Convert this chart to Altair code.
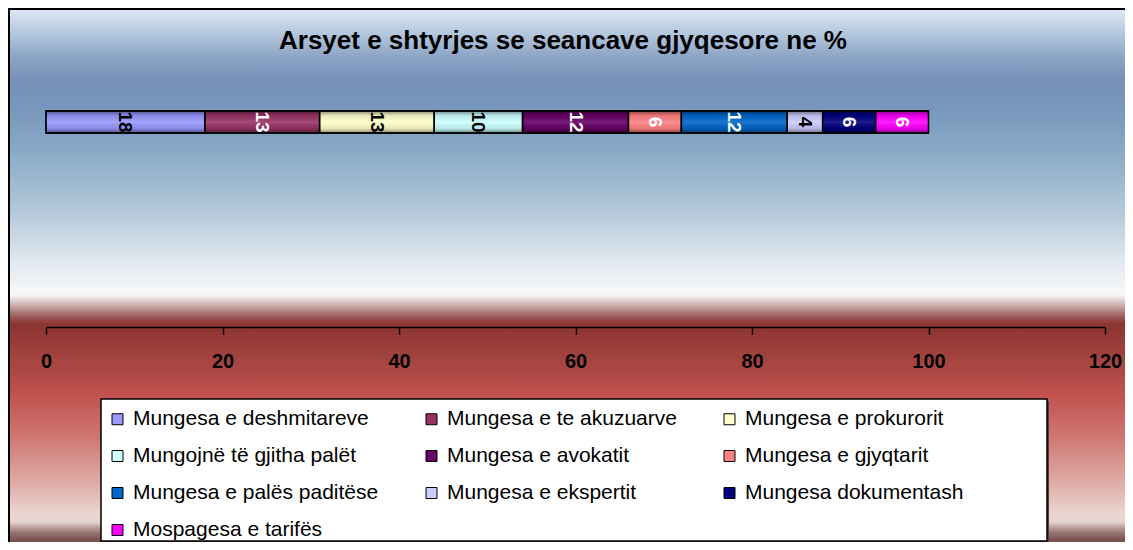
import altair as alt
import pandas as pd

# ---------------- data ----------------
TITLE = "Arsyet e shtyrjes se seancave gjyqesore ne %"
CATEGORIES = [
    "Mungesa e deshmitareve",
    "Mungesa e te akuzuarve",
    "Mungesa e prokurorit",
    "Mungojnë të gjitha palët",
    "Mungesa e avokatit",
    "Mungesa e gjyqtarit",
    "Mungesa e palës paditëse",
    "Mungesa e ekspertit",
    "Mungesa dokumentash",
    "Mospagesa e tarifës",
]
VALUES = [18, 13, 13, 10, 12, 6, 12, 4, 6, 6]
X_TICKS = [0, 20, 40, 60, 80, 100, 120]

# ---------------- styles ----------------
COLORS = ["#9999FF", "#993366", "#FFFFCC", "#CCFFFF", "#660066",
          "#FF8080", "#0066CC", "#CCCCFF", "#000080", "#FF00FF"]
LABEL_COLORS = ["black", "white", "black", "black", "white",
                "white", "white", "black", "white", "white"]
FONT = "Liberation Sans, Arial, sans-serif"

# layout (pixels)
PL, PT = 38, 92          # plot origin inside the svg
W, H = 1059, 227         # plot area: x axis 0..120, axis line at bottom
TOTAL_W, TOTAL_H = 1117, 534
PR = TOTAL_W - PL - W
PB = TOTAL_H - PT - H

df = pd.DataFrame({
    "category": CATEGORIES,
    "value": VALUES,
    "order": list(range(len(CATEGORIES))),
    "labelColor": LABEL_COLORS,
})

def stop(page_y, color):
    return alt.GradientStop(offset=max(0.0, min(1.0, (page_y - 9) / 535)), color=color)

bg_grad = alt.Gradient(
    gradient="linear", x1=0, y1=0, x2=0, y2=1,
    stops=[
        stop(9, "#dce8f4"), stop(25, "#c2d3e5"), stop(55, "#8fa8c8"),
        stop(80, "#7690b8"), stop(110, "#7898bc"), stop(150, "#88a9c6"),
        stop(210, "#b2c7d9"), stop(260, "#dfe7ef"), stop(292, "#f6f7f9"),
        stop(296, "#f4f1f1"), stop(300, "#e2d4d3"), stop(306, "#c8a9a8"),
        stop(312, "#ae7d7c"), stop(318, "#975250"), stop(324, "#8b3432"),
        stop(360, "#a54440"), stop(395, "#c1524f"), stop(440, "#cf7a75"),
        stop(485, "#dfaea9"), stop(514, "#ecd6d1"), stop(522, "#e4d2ce"),
        stop(527, "#bfa4a1"), stop(533, "#957270"), stop(540, "#7a5250"),
    ],
)

one = pd.DataFrame({"k": [0]})

background = alt.Chart(one).mark_rect(
    color=bg_grad, stroke="black", strokeWidth=2
).encode(
    x=alt.value(-PL + 1), x2=alt.value(W + PR + 2),
    y=alt.value(-PT + 1), y2=alt.value(H + PB + 2),
)

legend_shadow = alt.Chart(one).mark_rect(color="#5a3a3a").encode(
    x=alt.value(57), x2=alt.value(1003), y=alt.value(301), y2=alt.value(443)
)
legend_box = alt.Chart(one).mark_rect(
    fill="white", stroke="black", strokeWidth=1.5
).encode(
    x=alt.value(55), x2=alt.value(1001), y=alt.value(299), y2=alt.value(441)
)

stacked = alt.Chart(df).transform_window(
    cum="sum(value)", sort=[alt.SortField("order")], frame=[None, 0]
).transform_calculate(
    start="datum.cum - datum.value",
    mid="datum.cum - datum.value / 2",
)

x_enc = alt.X(
    "start:Q",
    scale=alt.Scale(domain=[0, 120], nice=False, zero=True, padding=0),
    axis=alt.Axis(
        values=X_TICKS, title=None, grid=False, format="d",
        domainColor="black", domainWidth=1.5,
        tickColor="black", tickWidth=1.5, tickSize=7,
        labelFont=FONT, labelFontSize=20, labelFontWeight="bold",
        labelColor="black", labelPadding=17,
        labelFlush=False, labelOverlap=False, zindex=1,
    ),
)

bars = stacked.mark_bar(stroke="black", strokeWidth=1.3).encode(
    x=x_enc,
    x2=alt.X2("cum:Q"),
    y=alt.value(11), y2=alt.value(33),
    color=alt.Color(
        "category:N",
        sort=CATEGORIES,
        scale=alt.Scale(domain=CATEGORIES, range=COLORS),
        legend=alt.Legend(
            orient="none", legendX=61, legendY=308.5, columns=3,
            direction="horizontal",
            title=None, symbolType="square", symbolSize=121,
            symbolStrokeColor="black", symbolStrokeWidth=1, symbolOpacity=1,
            labelFont=FONT, labelFontSize=21, labelColor="black",
            labelLimit=400, columnPadding=42, rowPadding=15,
            gridAlign="each", padding=0, labelOffset=5,
        ),
    ),
)

shade = alt.Gradient(
    gradient="linear", x1=0, y1=0, x2=0, y2=1,
    stops=[
        alt.GradientStop(offset=0, color="rgba(0,0,0,0.45)"),
        alt.GradientStop(offset=0.22, color="rgba(0,0,0,0.08)"),
        alt.GradientStop(offset=0.5, color="rgba(255,255,255,0.12)"),
        alt.GradientStop(offset=0.78, color="rgba(0,0,0,0.08)"),
        alt.GradientStop(offset=1, color="rgba(0,0,0,0.45)"),
    ],
)
overlay = stacked.mark_bar(color=shade, stroke="black", strokeWidth=1.3).encode(
    x=alt.X("start:Q"),
    x2=alt.X2("cum:Q"),
    y=alt.value(11), y2=alt.value(33),
)

labels = stacked.mark_text(
    angle=90, font=FONT, fontSize=19, fontWeight="bold",
    align="center", baseline="middle",
).encode(
    x=alt.X("mid:Q"),
    y=alt.value(22),
    text=alt.Text("value:Q"),
    fill=alt.Fill("labelColor:N", scale=None),
)

title = alt.Chart(pd.DataFrame({"t": [TITLE]})).mark_text(
    font=FONT, fontSize=26, fontWeight="bold", color="black",
    align="center", baseline="middle",
).encode(text="t:N", x=alt.value(517), y=alt.value(-59))

chart = alt.layer(
    background, legend_shadow, legend_box, bars, overlay, labels, title
).properties(
    width=W, height=H,
    autosize=alt.AutoSizeParams(type="none"),
    padding={"left": PL, "top": PT, "right": PR, "bottom": PB},
).configure_view(stroke=None).configure(background="white")

chart.save("out.html", embed_options={"renderer": "svg", "actions": False})
